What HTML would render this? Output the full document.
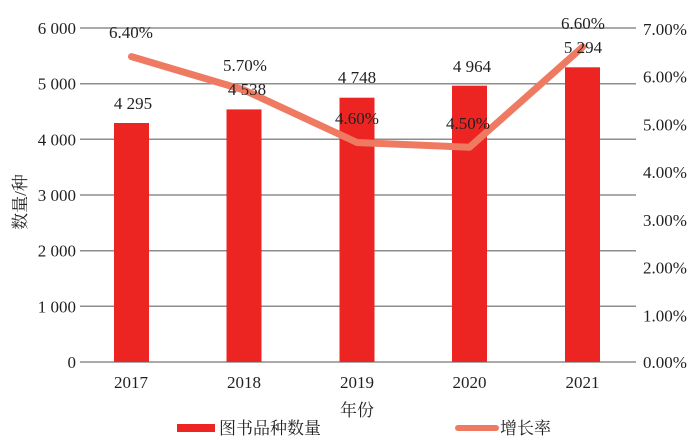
<!DOCTYPE html>
<html><head><meta charset="utf-8"><style>
html,body{margin:0;padding:0;background:#fff;}
svg{display:block;}
text{font-family:"Liberation Serif","Noto Serif CJK SC","Noto Sans CJK SC",serif;font-size:17px;fill:#231f20;}
</style></head><body>
<svg width="700" height="448" viewBox="0 0 700 448" xmlns="http://www.w3.org/2000/svg">
<g stroke="#8e8e8e" stroke-width="1.5">
<line x1="80" y1="28" x2="636" y2="28"/>
<line x1="80" y1="83.7" x2="636" y2="83.7"/>
<line x1="80" y1="139.3" x2="636" y2="139.3"/>
<line x1="80" y1="195" x2="636" y2="195"/>
<line x1="80" y1="250.7" x2="636" y2="250.7"/>
<line x1="80" y1="306.3" x2="636" y2="306.3"/>
<line x1="80" y1="362" x2="636" y2="362"/>
</g>
<g text-anchor="end">
<text x="76" y="34">6 000</text>
<text x="76" y="89.7">5 000</text>
<text x="76" y="145.3">4 000</text>
<text x="76" y="201">3 000</text>
<text x="76" y="256.7">2 000</text>
<text x="76" y="312.3">1 000</text>
<text x="76" y="368">0</text>
</g>
<g>
<text x="643" y="35">7.00%</text>
<text x="643" y="82.7">6.00%</text>
<text x="643" y="130.4">5.00%</text>
<text x="643" y="178.1">4.00%</text>
<text x="643" y="225.9">3.00%</text>
<text x="643" y="273.6">2.00%</text>
<text x="643" y="321.3">1.00%</text>
<text x="643" y="368">0.00%</text>
</g>
<g fill="#ec2523">
<rect x="114" y="123" width="35" height="239"/>
<rect x="226.5" y="109.4" width="35" height="252.6"/>
<rect x="339.5" y="97.7" width="35" height="264.3"/>
<rect x="452" y="85.7" width="35" height="276.3"/>
<rect x="565" y="67.3" width="35" height="294.7"/>
</g>
<polyline points="131.5,56.6 244,90 357,142.5 469.5,147.3 582.5,47.1" fill="none" stroke="#ef7a62" stroke-width="7" stroke-linejoin="round" stroke-linecap="round"/>
<g text-anchor="middle">
<text x="133" y="109">4 295</text>
<text x="247" y="95">4 538</text>
<text x="357" y="83">4 748</text>
<text x="472" y="72">4 964</text>
<text x="583" y="53">5 294</text>
<text x="131" y="38">6.40%</text>
<text x="245" y="71">5.70%</text>
<text x="357" y="124">4.60%</text>
<text x="468" y="129">4.50%</text>
<text x="583" y="29">6.60%</text>
<text x="131" y="388">2017</text>
<text x="244" y="388">2018</text>
<text x="357" y="388">2019</text>
<text x="469.5" y="388">2020</text>
<text x="582.5" y="388">2021</text>
<text x="357" y="416">年份</text>
</g>
<text transform="translate(26,202) rotate(-90)" text-anchor="middle">数量/种</text>
<rect x="177" y="424" width="38" height="8" fill="#ec2523"/>
<text x="219" y="434">图书品种数量</text>
<line x1="458" y1="428" x2="496" y2="428" stroke="#ef7a62" stroke-width="6" stroke-linecap="round"/>
<text x="500" y="434">增长率</text>
</svg>
</body></html>
